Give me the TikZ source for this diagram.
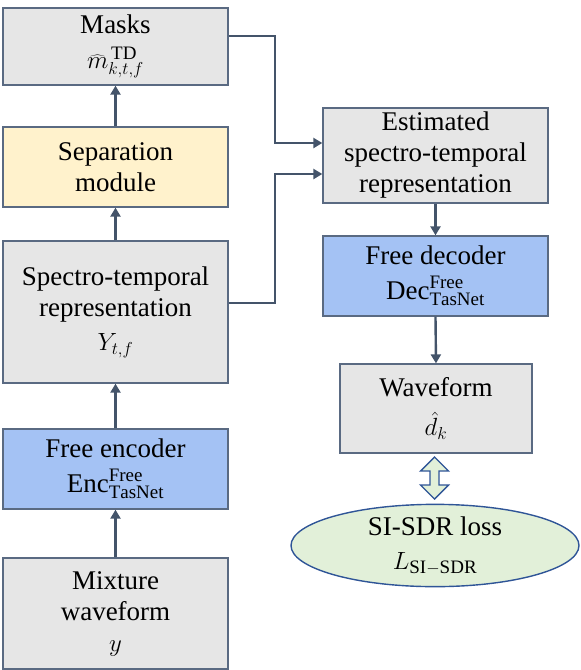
\documentclass[tikz,border=0pt]{standalone}
\usepackage{fontspec}
\setmainfont{Liberation Serif}
\DeclareMathSizes{27}{27}{19}{14}
\usetikzlibrary{shapes.geometric,arrows.meta}
\definecolor{boxgray}{HTML}{E6E6E6}
\definecolor{boxyel}{HTML}{FFF2CC}
\definecolor{boxblue}{HTML}{A4C2F4}
\definecolor{boxgreen}{HTML}{E2F0D9}
\definecolor{edgec}{HTML}{5A6A82}
\definecolor{connc}{HTML}{44546A}
\definecolor{ellc}{HTML}{2F5597}
\begin{document}
\begin{tikzpicture}[x=1pt,y=-1pt,
  font=\rmfamily\fontsize{27}{31}\selectfont,
  basebox/.style={draw=edgec, line width=1.3pt, align=center, inner sep=0pt, minimum width=225pt},
  gbox/.style={basebox, fill=boxgray},
  ybox/.style={basebox, fill=boxyel},
  bluebox/.style={basebox, fill=boxblue},
  conn/.style={draw=connc, line width=2.4pt, -{Triangle[length=9pt,width=10pt]}},
  lossell/.style={ellipse, draw=ellc, line width=1.4pt, fill=boxgreen, inner sep=0pt, align=center},
  dblarrow/.style={draw=ellc, line width=1.4pt, fill=boxgreen, line join=miter}
]
\useasboundingbox (0,0) rectangle (581,670);
% left column
\node[gbox, minimum height=77pt] (masks) at (115.5,46.5)
  {Masks\\[4pt] $\widehat{m}^{\,\mathrm{TD}}_{k,t,f}$};
\node[ybox, minimum height=80pt] (sep) at (115.5,167)
  {Separation\\ module};
\node[gbox, minimum height=142pt] (spec) at (115.5,312)
  {Spectro-temporal\\ representation\\[3pt] $Y_{t,f}$};
\node[bluebox, minimum height=80pt] (enc) at (115.5,469)
  {Free encoder\\[4pt] $\mathrm{Enc}^{\mathrm{Free}}_{\mathrm{TasNet}}$};
\node[gbox, minimum height=111pt] (mix) at (115.5,613.5)
  {Mixture\\ waveform\\ $y$};
% right column
\node[gbox, minimum height=95pt] (est) at (435.5,155.5)
  {Estimated\\ spectro-temporal\\ representation};
\node[bluebox, minimum height=80pt] (dec) at (435.5,276)
  {Free decoder\\[4pt] $\mathrm{Dec}^{\mathrm{Free}}_{\mathrm{TasNet}}$};
\node[gbox, minimum width=192pt, minimum height=89pt] (wave) at (436,408.5)
  {Waveform\\[8pt] $\hat{d}_k$};
\node[lossell, minimum width=288pt, minimum height=75pt] (loss) at (435,545.5)
  {SI-SDR loss\\[3pt] $L_{\mathrm{SI-SDR}}$};
% connectors
\draw[conn] (mix.north) -- (enc.south);
\draw[conn] (enc.north) -- (spec.south);
\draw[conn] (spec.north) -- (sep.south);
\draw[conn] (sep.north) -- (masks.south);
\coordinate (m1) at (275,36);
\coordinate (m2) at (275,143);
\coordinate (s1) at (275,303);
\coordinate (s2) at (275,174);
\draw[conn] (masks.east |- m1) -- (m1) -- (m2) -- (est.west |- m2);
\draw[conn] (spec.east |- s1) -- (s1) -- (s2) -- (est.west |- s2);
\draw[conn] (est.south) -- (dec.north);
\draw[conn] (dec.south) -- (wave.north);
% double arrow
\draw[dblarrow] (434.5,457) -- (448.5,471) -- (439,471) -- (439,485) -- (448.5,485)
  -- (434.5,499) -- (420.5,485) -- (430,485) -- (430,471) -- (420.5,471) -- cycle;
\end{tikzpicture}
\end{document}
